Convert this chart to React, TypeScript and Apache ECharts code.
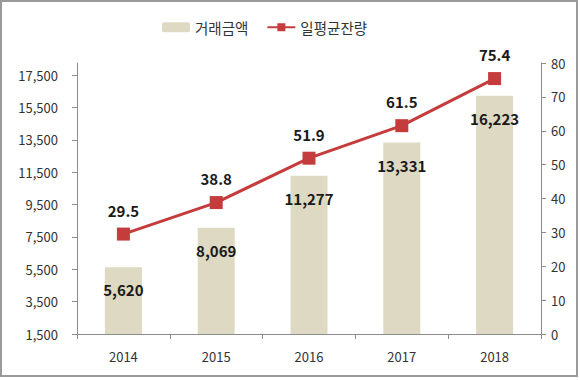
import React, { useEffect, useRef } from "react";
import * as echarts from "echarts";

const categories = ["2014", "2015", "2016", "2017", "2018"];
const amountValues = [5620, 8069, 11277, 13331, 16223];
const balanceValues = [29.5, 38.8, 51.9, 61.5, 75.4];
const leftTicks = [1500, 3500, 5500, 7500, 9500, 11500, 13500, 15500, 17500];
const seriesNames = ["거래금액", "일평균잔량"];

const FONT = "'Noto Sans CJK KR', 'Noto Sans', sans-serif";
const AXIS_COLOR = "#8c8c8c";
const TEXT_COLOR = "#333333";

const fmt = (v: number) => v.toLocaleString("en-US");

export default function App() {
  const ref = useRef<HTMLDivElement>(null);
  useEffect(() => {
    if (!ref.current) return;
    const chart = echarts.init(ref.current, undefined, { renderer: "svg" });
    chart.setOption({
      animation: false,
      backgroundColor: "#ffffff",
      textStyle: { fontFamily: FONT },
      legend: {
        left: 157,
        top: 15,
        itemWidth: 28,
        itemHeight: 10,
        itemGap: 18,
        textStyle: { fontFamily: FONT, fontSize: 14.5, color: TEXT_COLOR },
        data: seriesNames,
      },
      grid: { left: 77, right: 39, top: 63, bottom: 46 },
      xAxis: {
        type: "category",
        data: categories,
        axisLine: { show: true, lineStyle: { color: AXIS_COLOR, width: 1 } },
        axisTick: { show: true, inside: false, length: 5, lineStyle: { color: AXIS_COLOR } },
        axisLabel: { fontFamily: FONT, fontSize: 13, color: TEXT_COLOR, margin: 16 },
        splitLine: { show: false },
      },
      yAxis: [
        {
          type: "value",
          min: 1500,
          max: 18250,
          axisLine: { show: true, lineStyle: { color: AXIS_COLOR, width: 1 } },
          axisTick: { show: true, length: 5, lineStyle: { color: AXIS_COLOR }, customValues: leftTicks },
          axisLabel: {
            fontFamily: FONT,
            fontSize: 13,
            color: TEXT_COLOR,
            margin: 19,
            customValues: leftTicks,
            formatter: (v: number) => fmt(v),
          },
          splitLine: { show: false },
        },
        {
          type: "value",
          min: 0,
          max: 80,
          interval: 10,
          position: "right",
          axisLine: { show: true, lineStyle: { color: AXIS_COLOR, width: 1 } },
          axisTick: { show: true, length: 5, lineStyle: { color: AXIS_COLOR } },
          axisLabel: { fontFamily: FONT, fontSize: 13, color: TEXT_COLOR, margin: 10 },
          splitLine: { show: false },
        },
      ],
      series: [
        {
          name: seriesNames[0],
          type: "bar",
          data: amountValues,
          barWidth: 37,
          itemStyle: { color: "#ddd9c3" },
          label: {
            show: true,
            position: "insideTop",
            distance: 15,
            fontFamily: FONT,
            fontSize: 15,
            fontWeight: "bold",
            color: "#1a1a1a",
            formatter: (p: any) => fmt(p.value),
          },
        },
        {
          name: seriesNames[1],
          type: "line",
          yAxisIndex: 1,
          data: balanceValues,
          symbol: "rect",
          symbolSize: 13,
          lineStyle: { color: "#c43c3c", width: 3 },
          itemStyle: { color: "#c43c3c" },
          label: {
            show: true,
            position: "top",
            distance: 10,
            fontFamily: FONT,
            fontSize: 15,
            fontWeight: "bold",
            color: "#1a1a1a",
            formatter: (p: any) => p.value.toFixed(1),
          },
        },
      ],
      graphic: [
        {
          type: "rect",
          shape: { x: 1, y: 1, width: 576, height: 375 },
          style: { fill: "none", stroke: "#9a9a9a", lineWidth: 2 },
          silent: true,
        },
      ],
    });
    return () => chart.dispose();
  }, []);
  return (
    <div
      ref={ref}
      style={{ position: "absolute", left: 0, top: 0, width: 580, height: 380 }}
    />
  );
}
